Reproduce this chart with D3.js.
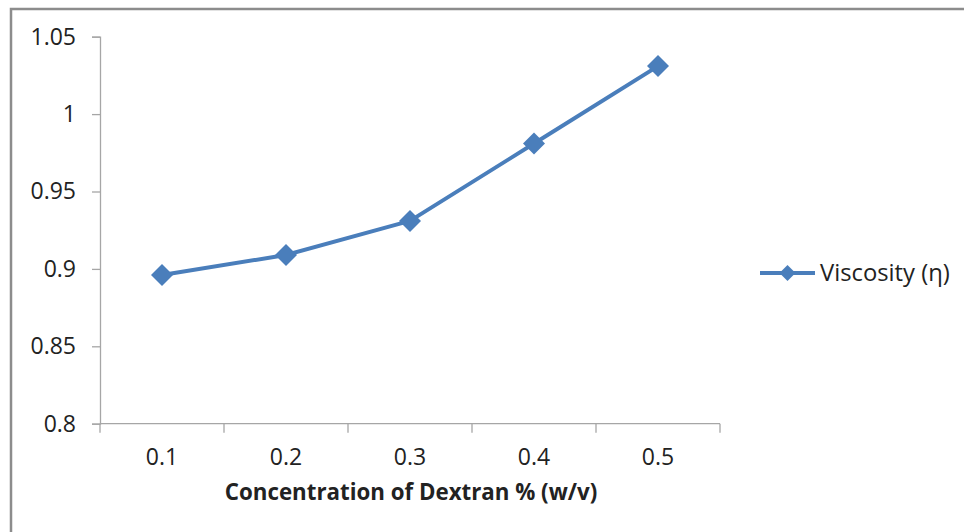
<!DOCTYPE html>
<html>
<head>
<meta charset="utf-8">
<script src="https://cdn.jsdelivr.net/npm/d3@7"></script>
<style>
  html, body { margin: 0; padding: 0; background: #fff; }
  svg { display: block; }
  text { font-family: "Open Sans", sans-serif; fill: #222; }
</style>
</head>
<body>
<svg id="chart" width="964" height="532"></svg>
<script>
// Dextran concentration (% w/v) vs. measured viscosity
const categories = ["0.1", "0.2", "0.3", "0.4", "0.5"];
const viscosity = [0.896, 0.909, 0.931, 0.981, 1.031];
const yTicks = [0.8, 0.85, 0.9, 0.95, 1, 1.05];
const seriesName = "Viscosity (\u03b7)";
const xTitle = "Concentration of Dextran % (w/v)";

const svg = d3.select("#chart");
const W = 964, H = 532;
const plot = { left: 100, right: 720, top: 36.7, bottom: 423.7 };
const blue = "#4a7ebb";
const axisGrey = "#a6a6a6";

// outer chart frame (runs off the right and bottom edges)
svg.append("rect")
  .attr("x", 11).attr("y", 9)
  .attr("width", W + 20).attr("height", H + 20)
  .attr("fill", "#fff")
  .attr("stroke", "#8c8c8c")
  .attr("stroke-width", 2.5);

const x = d3.scaleBand().domain(categories).range([plot.left, plot.right]);
const y = d3.scaleLinear().domain([0.8, 1.05]).range([plot.bottom, plot.top]);

// y axis
const yAxis = svg.append("g")
  .attr("transform", `translate(${plot.left},0)`)
  .call(d3.axisLeft(y).tickValues(yTicks).tickSize(8).tickPadding(16)
    .tickFormat(d => d3.format("")(+d.toFixed(2))));
yAxis.select(".domain").attr("stroke", axisGrey).attr("stroke-width", 1.3);
yAxis.selectAll(".tick line").attr("stroke", axisGrey).attr("stroke-width", 1.3);
yAxis.selectAll(".tick text").attr("font-size", 23).attr("fill", "#222")
  .attr("font-family", "'Open Sans', sans-serif");

// x axis: tick marks on category boundaries, labels centred in each band
const xg = svg.append("g").attr("transform", `translate(0,${plot.bottom})`);
xg.append("line")
  .attr("x1", plot.left).attr("x2", plot.right)
  .attr("stroke", axisGrey).attr("stroke-width", 1.3);
const bounds = categories.map(c => x(c)).concat([plot.right]);
xg.selectAll("line.tk").data(bounds).join("line")
  .attr("class", "tk")
  .attr("x1", d => d).attr("x2", d => d)
  .attr("y1", 0).attr("y2", 9)
  .attr("stroke", axisGrey).attr("stroke-width", 1.3);
xg.selectAll("text").data(categories).join("text")
  .attr("x", d => x(d) + x.bandwidth() / 2)
  .attr("y", 41)
  .attr("text-anchor", "middle")
  .attr("font-size", 23)
  .text(d => d);

// x axis title
svg.append("text")
  .attr("x", (plot.left + plot.right) / 2 + 1)
  .attr("y", 500)
  .attr("text-anchor", "middle")
  .attr("font-size", 22.3)
  .attr("font-weight", "bold")
  .text(xTitle);

// series line
const cx = d => x(d) + x.bandwidth() / 2;
const line = d3.line()
  .x((d, i) => cx(categories[i]))
  .y(d => y(d));
svg.append("path")
  .datum(viscosity)
  .attr("d", line)
  .attr("fill", "none")
  .attr("stroke", blue)
  .attr("stroke-width", 4)
  .attr("stroke-linejoin", "round");

// diamond markers
const diamond = r => `M0,${-r}L${r},0L0,${r}L${-r},0Z`;
svg.selectAll("path.mk").data(viscosity).join("path")
  .attr("class", "mk")
  .attr("transform", (d, i) => `translate(${cx(categories[i])},${y(d)})`)
  .attr("d", diamond(11))
  .attr("fill", blue);

// legend
const lg = svg.append("g").attr("transform", "translate(760,273)");
lg.append("line").attr("x1", 0).attr("x2", 55)
  .attr("stroke", blue).attr("stroke-width", 4);
lg.append("path").attr("transform", "translate(27.5,0)")
  .attr("d", diamond(8)).attr("fill", blue);
lg.append("text").attr("x", 60).attr("y", 8)
  .attr("font-size", 23.8)
  .text(seriesName);
</script>
</body>
</html>
